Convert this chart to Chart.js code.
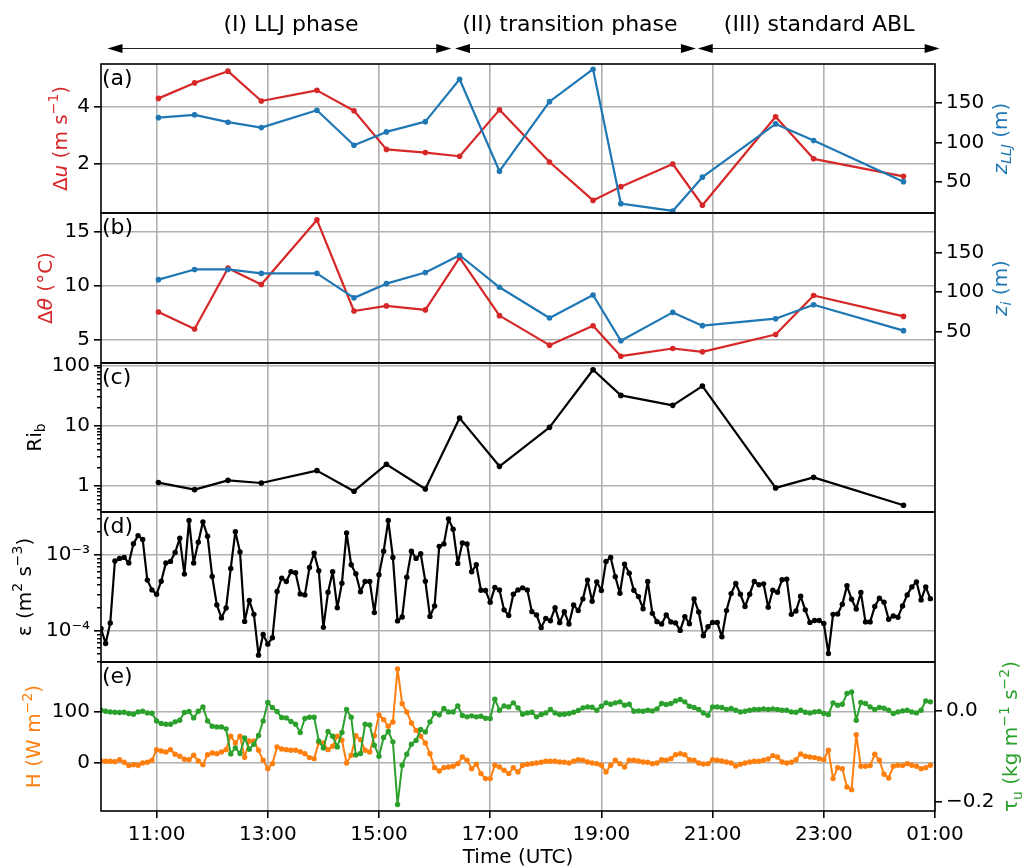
<!DOCTYPE html>
<html>
<head>
<meta charset="utf-8">
<title>LLJ, transition and standard ABL phases</title>
<script src="https://cdn.jsdelivr.net/npm/chart.js@4.4.1/dist/chart.umd.min.js"></script>
<style>
  html, body { margin: 0; background: #fff; }
  #fig { position: relative; width: 1023px; height: 866px; }
  #fig canvas { position: absolute; left: 0; top: 0; }
</style>
</head>
<body>
<div id="fig">
  <canvas id="panel-a" width="1023" height="866"></canvas>
  <canvas id="panel-b" width="1023" height="866"></canvas>
  <canvas id="panel-c" width="1023" height="866"></canvas>
  <canvas id="panel-d" width="1023" height="866"></canvas>
  <canvas id="panel-e" width="1023" height="866"></canvas>
</div>
<script>
/* Radiosonde profiles (one value per launch, UTC) */
const profileTimes = ["11:02", "11:41", "12:17", "12:53", "13:53", "14:33", "15:08", "15:50", "16:27",
                      "17:10", "18:04", "18:51", "19:21", "20:17", "20:49", "22:08", "22:49", "00:26"];
const duValues     = [4.30, 4.84, 5.25, 4.21, 4.58, 3.87, 2.52, 2.41, 2.28, 3.90, 2.08, 0.74, 1.22, 2.01, 0.57, 3.66, 2.19, 1.58];
const zLljValues   = [131.6, 135.1, 125.8, 118.9, 141.1, 96.4, 113.4, 126.5, 180.6, 63.3, 152.0, 193.4, 21.9, 12.6, 55.7, 123.6, 102.3, 50.0];
const dThetaValues = [7.62, 6.04, 11.67, 10.16, 16.13, 7.71, 8.18, 7.81, 12.64, 7.28, 4.55, 6.35, 3.53, 4.24, 3.93, 5.54, 9.14, 7.21];
const ziValues     = [115.6, 128.5, 128.5, 123.5, 123.5, 92.5, 110.5, 124.7, 146.5, 105.9, 67.0, 96.2, 38.1, 74.1, 57.3, 66.1, 83.7, 51.0];
const ribValues    = [1.14, 0.87, 1.24, 1.12, 1.80, 0.82, 2.29, 0.89, 13.4, 2.12, 9.4, 85, 31.9, 21.8, 45.5, 0.93, 1.39, 0.48];

/* Tower series, 5-min averages starting 10:00 UTC */
const sampleStart = "10:00";
const sampleMinutes = 5;
const epsValues = [
  1.08e-4, 6.87e-5, 1.28e-4, 8.33e-4, 9.03e-4, 9.31e-4, 7.84e-4, 1.41e-3, 1.80e-3, 1.60e-3,
  4.68e-4, 3.48e-4, 3.05e-4, 4.53e-4, 7.84e-4, 8.25e-4, 1.08e-3, 1.66e-3, 5.61e-4, 2.84e-3,
  7.84e-4, 1.47e-3, 2.73e-3, 1.77e-3, 5.22e-4, 2.21e-4, 1.49e-4, 2.01e-4, 6.67e-4, 2.03e-3,
  1.10e-3, 1.34e-4, 2.52e-4, 1.66e-4, 4.82e-5, 9.04e-5, 6.73e-5, 8.17e-5, 3.31e-4, 4.97e-4,
  4.49e-4, 6.03e-4, 5.85e-4, 3.08e-4, 2.99e-4, 6.87e-4, 1.06e-3, 6.21e-4, 1.12e-4, 3.24e-4,
  6.03e-4, 2.03e-4, 4.27e-4, 1.95e-3, 7.45e-4, 5.67e-4, 3.28e-4, 4.49e-4, 4.49e-4, 1.75e-4,
  5.50e-4, 1.12e-3, 2.84e-3, 9.31e-4, 1.36e-4, 1.53e-4, 5.12e-4, 1.12e-3, 9.03e-4, 1.04e-3,
  4.53e-4, 1.56e-4, 2.14e-4, 1.30e-3, 1.40e-3, 2.99e-3, 2.18e-3, 7.76e-4, 1.44e-3, 1.40e-3,
  6.03e-4, 7.45e-4, 3.44e-4, 3.41e-4, 2.39e-4, 3.74e-4, 3.48e-4, 1.90e-4, 1.60e-4, 3.05e-4,
  3.48e-4, 3.70e-4, 3.48e-4, 1.80e-4, 1.63e-4, 1.11e-4, 1.47e-4, 1.37e-4, 2.03e-4, 1.29e-4,
  1.80e-4, 1.24e-4, 2.21e-4, 1.86e-4, 2.65e-4, 4.68e-4, 2.47e-4, 4.44e-4, 3.41e-4, 8.25e-4,
  9.31e-4, 5.17e-4, 3.15e-4, 7.60e-4, 5.78e-4, 3.44e-4, 2.84e-4, 1.97e-4, 4.49e-4, 1.71e-4,
  1.33e-4, 1.24e-4, 1.63e-4, 1.32e-4, 1.28e-4, 1.02e-4, 1.55e-4, 1.25e-4, 2.65e-4, 1.78e-4,
  8.67e-5, 1.14e-4, 1.30e-4, 1.30e-4, 8.41e-5, 1.86e-4, 3.11e-4, 4.22e-4, 3.05e-4, 2.10e-4,
  3.05e-4, 4.49e-4, 4.06e-4, 4.18e-4, 2.06e-4, 3.44e-4, 3.24e-4, 4.72e-4, 4.82e-4, 1.66e-4,
  1.84e-4, 2.87e-4, 1.90e-4, 1.30e-4, 1.38e-4, 1.38e-4, 1.26e-4, 5.07e-5, 1.66e-4, 1.68e-4,
  2.25e-4, 3.94e-4, 2.62e-4, 1.95e-4, 3.21e-4, 1.32e-4, 1.32e-4, 2.10e-4, 2.70e-4, 2.39e-4,
  1.43e-4, 1.58e-4, 1.52e-4, 2.14e-4, 2.99e-4, 3.81e-4, 4.44e-4, 2.57e-4, 3.81e-4, 2.67e-4
];
const heatFluxValues = [
  2.6, 2, 2, 1.3, 5.2, 0, -6.5, -4.6, -5.9, -1.3,
  0, 3.9, 24.8, 22.2, 20.3, 24.8, 15.7, 11.8, 5.9, 5.2,
  13.7, 2.6, -4.6, 15, 18.3, 17, 20.3, 24.8, 51, 37.9,
  51, 9.8, 41.8, 41.8, 23.5, 3.9, -12.4, -2.6, 30, 26.1,
  24.8, 23.5, 23.5, 20.9, 17, 9.2, 7.2, 38.6, 37.9, 24.8,
  31.4, 51, 43.1, -1.3, 13.7, 52.3, 44.4, 23.5, 20.3, 52.3,
  92.8, 83.7, 70.6, 79.1, 183, 115, 98.7, 77.1, 62.7, 51,
  37.9, 17, -10.5, -17, -10.5, -9.2, -7.8, -2.6, 10.5, 3.9,
  -12.4, -3.9, -22.2, -32, -32, -5.9, -9.2, -15.7, -22.2, -10.5,
  -19, -5.9, -3.9, -2.6, -1.3, 0, 2, 2, 2, 0.7,
  0, -1.3, 2, 5.2, 3.9, 0.7, -1.3, -2.6, -5.9, -19,
  -5.9, 3.9, -2.6, -9.2, 3.9, 3.9, 2.6, 0.7, 0, -2.6,
  -1.3, 5.2, 3.9, 7.2, 15, 17, 15, 5.2, 3.9, -1.3,
  -3.3, -2.6, 5.2, 3.9, 2.6, 0.7, -1.3, -7.2, -3.9, -1.3,
  0.7, 2, 2, 3.9, 6.5, 13.1, 10.5, 0.7, -1.3, 0,
  5.2, 16.3, 11.8, 10.5, 9.2, 7.2, 5.2, 23.5, -32, -10.5,
  -12.4, -48.4, -53.6, 54.2, -7.8, -7.8, -6.5, 15.7, 3.9, -23.5,
  -30.7, -7.8, -5.9, -6.5, -2.6, -5.9, -7.8, -12.4, -10.5, -5.9
];
const stressValues = [
  0.0022, 0, -0.0015, -0.0022, -0.003, -0.0022, -0.005, -0.0066, -0.0015, 0,
  -0.0037, -0.0044, -0.0214, -0.0273, -0.0288, -0.0288, -0.0236, -0.0199, -0.003, -0.0007,
  -0.0148, 0, 0.0096, -0.0214, -0.0332, -0.0347, -0.0347, -0.0391, -0.0945, -0.0812,
  -0.0937, -0.059, -0.0841, -0.0731, -0.0539, -0.0214, 0.0192, 0.0081, -0.0007, -0.014,
  -0.0148, -0.0229, -0.0288, -0.0472, -0.0162, -0.0133, -0.0133, -0.0657, -0.0812, -0.045,
  -0.0554, -0.079, -0.0472, 0.0037, -0.0133, -0.0967, -0.0937, -0.0288, -0.0303, -0.0753,
  -0.0996, -0.0583, -0.045, -0.0679, -0.2066, -0.1196, -0.0952, -0.0731, -0.0649, -0.0406,
  -0.0458, -0.0236, -0.0044, -0.0081, 0.0059, -0.0015, -0.0015, 0.0118, -0.0096, -0.0125,
  -0.0103, -0.0125, -0.0111, -0.0155, -0.0162, 0.0266, 0.0022, 0.0118, 0.0096, 0.0185,
  0.0074, -0.0066, -0.0037, -0.0022, -0.0125, -0.0074, -0.0037, 0.0037, -0.0037, -0.0074,
  -0.0066, -0.0052, -0.0022, 0.0015, 0.0074, 0.0096, 0.0089, 0.0022, 0.0111, 0.0185,
  0.0155, 0.0185, 0.0207, 0.0133, 0.0155, 0, 0.0007, 0, 0.0022, 0.0007,
  0.0052, 0.017, 0.0148, 0.017, 0.0229, 0.0258, 0.0207, 0.0111, 0.0081, 0.0037,
  -0.0037, -0.0089, 0.0096, 0.0096, 0.0081, 0.0037, 0.0059, 0.0022, -0.0015, 0,
  0.0022, 0.0037, 0.0037, 0.0052, 0.0037, 0.0052, 0.0037, 0.0022, 0.0022, -0.0015,
  -0.0022, 0.0022, -0.0022, -0.0037, -0.0015, -0.0007, -0.0052, -0.0074, 0.0185, 0.0133,
  0.0155, 0.0391, 0.0428, -0.0199, 0.0192, 0.017, 0.0096, 0.0037, 0.0081, 0.0066,
  0.0022, -0.0052, -0.0015, 0.0007, 0.0022, -0.0015, -0.0037, 0.0022, 0.0229, 0.0207
];

/* Flow regimes shown above the panels */
const phaseNames   = ["(I) LLJ phase", "(II) transition phase", "(III) standard ABL"];
const phaseFrom    = ["10:07", "16:22", "20:44"];
const phaseTo      = ["16:18", "20:42", "01:05"];
const phaseLabelAt = ["13:25", "18:26", "22:55"];

/* Tick labels */
const timeTickLabels = ["11:00", "13:00", "15:00", "17:00", "19:00", "21:00", "23:00", "01:00"];
const duTicks = [2, 4];
const zLljTicks = [50, 100, 150];
const dThetaTicks = [5, 10, 15];
const ziTicks = [50, 100, 150];
const ribTicks = [1, 10, 100];
const epsTicks = [1e-4, 1e-3];
const heatFluxTicks = [0, 100];
const stressTicks = [-0.2, 0.0];

/* ---- look ---- */
const RED = "#d62728", BLUE = "#1f77b4", ORANGE = "#ff7f0e", GREEN = "#2ca02c";
const GRID = "#b0b0b0";
const FONT = '"DejaVu Sans", sans-serif';
const W = 1023, H = 866;
const PLOT_L = 101, PLOT_R = 935;
const PANEL_EDGES = [64, 213, 363, 512, 662, 811];
const X_AXIS_H = 55;

Chart.defaults.font.family = FONT;
Chart.defaults.color = "#000";

/* "00:26" -> 24.43; hours before 10 belong to the next day */
function toHours(s) {
  const [h, m] = s.split(":").map(Number);
  return (h < 10 ? h + 24 : h) + m / 60;
}

const atProfiles = (values) => values.map((v, i) => ({ x: toHours(profileTimes[i]), y: v }));
const atSamples = (values) =>
  values.map((v, i) => ({ x: toHours(sampleStart) + (i * sampleMinutes) / 60, y: v }));

const SUPERSCRIPT = { "-": "⁻", "0": "⁰", "1": "¹", "2": "²", "3": "³", "4": "⁴", "5": "⁵" };
const powerLabel = (v) =>
  "10" + String(Math.round(Math.log10(v))).split("").map((c) => SUPERSCRIPT[c]).join("");

/* Text with italics, sub- and superscripts, centred on (cx, cy) */
function drawRich(ctx, parts, cx, cy, color, size, vertical) {
  const fontOf = (p) => `${p.i ? "italic " : ""}${p.sub || p.sup ? size * 0.7 : size}px ${FONT}`;
  ctx.save();
  ctx.translate(cx, cy);
  if (vertical) ctx.rotate(-Math.PI / 2);
  ctx.fillStyle = color;
  ctx.textBaseline = "alphabetic";
  ctx.textAlign = "left";
  const widths = parts.map((p) => { ctx.font = fontOf(p); return ctx.measureText(p.t).width; });
  let x = -widths.reduce((a, b) => a + b, 0) / 2;
  const base = size * 0.36;
  parts.forEach((p, k) => {
    ctx.font = fontOf(p);
    const dy = p.sup ? -size * 0.42 : p.sub ? size * 0.22 : 0;
    ctx.fillText(p.t, x, base + dy);
    x += widths[k];
  });
  ctx.restore();
}

function arrowHead(ctx, x, y, dir) {
  ctx.beginPath();
  ctx.moveTo(x, y);
  ctx.lineTo(x + dir * 15, y - 4.5);
  ctx.lineTo(x + dir * 15, y + 4.5);
  ctx.closePath();
  ctx.fill();
}

/* frame, panel letter, axis titles; phase arrows on the top panel, time title on the bottom one */
function decor(spec, k, last) {
  return {
    id: "decor",
    afterDraw(chart) {
      const { ctx, chartArea: a } = chart;
      const midY = (a.top + a.bottom) / 2;
      ctx.save();
      ctx.strokeStyle = "#000";
      ctx.lineWidth = 1.6;
      ctx.strokeRect(a.left, a.top, a.right - a.left, a.bottom - a.top);
      ctx.fillStyle = "#000";
      ctx.font = `22px ${FONT}`;
      ctx.textAlign = "left";
      ctx.textBaseline = "alphabetic";
      ctx.fillText(spec.letter, a.left + 1, a.top + 20.5);
      ctx.restore();

      for (const t of spec.titles) drawRich(ctx, t.parts, t.x, midY, t.color, 20, true);

      if (last) {
        drawRich(ctx, [{ t: "Time (UTC)" }], (a.left + a.right) / 2, 856, "#000", 20, false);
      }

      if (k === 0) {
        const xs = chart.scales.x;
        const y = 48.5;
        ctx.save();
        ctx.fillStyle = "#000";
        ctx.strokeStyle = "#222";
        ctx.lineWidth = 1.2;
        phaseNames.forEach((name, n) => {
          const x1 = xs.getPixelForValue(toHours(phaseFrom[n]));
          const x2 = xs.getPixelForValue(toHours(phaseTo[n]));
          ctx.beginPath();
          ctx.moveTo(x1 + 10, y);
          ctx.lineTo(x2 - 10, y);
          ctx.stroke();
          arrowHead(ctx, x1, y, 1);
          arrowHead(ctx, x2, y, -1);
          ctx.font = `22px ${FONT}`;
          ctx.textAlign = "center";
          ctx.textBaseline = "alphabetic";
          ctx.fillText(name, xs.getPixelForValue(toHours(phaseLabelAt[n])), 30.5);
        });
        ctx.restore();
      }
    },
  };
}

function timeAxis(showLabels) {
  return {
    type: "linear",
    min: toHours("10:00"),
    max: toHours("01:00"),
    bounds: "data",
    afterBuildTicks: (s) => { s.ticks = timeTickLabels.map((t) => ({ value: toHours(t) })); },
    afterFit: (s) => { s.height = showLabels ? X_AXIS_H : 0; },
    grid: { color: GRID, lineWidth: 1.6, drawTicks: showLabels, tickLength: 7, tickWidth: 1.6, tickColor: "#000" },
    border: { display: false },
    ticks: {
      display: showLabels,
      autoSkip: false,
      maxRotation: 0,
      padding: 5,
      font: { size: 20 },
      callback: (v, i) => timeTickLabels[i],
    },
  };
}

function valueAxis(pos, spec) {
  const isLog = spec.type === "logarithmic";
  const minorTick = (c) => isLog && c.tick && !c.tick.major;
  return {
    type: spec.type || "linear",
    position: pos,
    min: spec.min,
    max: spec.max,
    bounds: "data",
    afterBuildTicks: (s) => {
      if (!isLog) { s.ticks = spec.ticks.map((v) => ({ value: v })); return; }
      const out = [];
      const d0 = Math.floor(Math.log10(spec.min)), d1 = Math.ceil(Math.log10(spec.max));
      for (let d = d0; d <= d1; d++) {
        for (let m = 1; m <= 9; m++) {
          const v = m * Math.pow(10, d);
          if (v < spec.min || v > spec.max) continue;
          out.push({ value: v, major: spec.ticks.some((t) => Math.abs(t - v) / t < 1e-6) });
        }
      }
      s.ticks = out;
    },
    afterFit: (s) => { s.width = pos === "left" ? PLOT_L : W - PLOT_R; },
    grid: {
      drawOnChartArea: pos === "left",
      color: (c) => (minorTick(c) ? "rgba(0,0,0,0)" : GRID),
      lineWidth: 1.6,
      tickLength: 7,
      tickWidth: 1.6,
      tickColor: "#000",
      tickBorderDash: (c) => (minorTick(c) ? [0, 3, 4, 40] : []),
    },
    border: { display: false },
    ticks: {
      autoSkip: false,
      padding: 4,
      font: { size: 20 },
      callback: (v, i, ticks) => (isLog && !ticks[i].major ? "" : spec.fmt(v)),
    },
  };
}

function line(data, color, axis, order, width, radius) {
  return {
    data, yAxisID: axis, xAxisID: "x", order,
    borderColor: color, backgroundColor: color,
    borderWidth: width, borderJoinStyle: "round",
    pointRadius: radius, pointBorderWidth: 0, pointBackgroundColor: color,
    tension: 0,
  };
}

function panel(id, k, spec) {
  const last = k === PANEL_EDGES.length - 2;
  const scales = { x: timeAxis(last), yL: valueAxis("left", spec.left) };
  if (spec.right) scales.yR = valueAxis("right", spec.right);
  return new Chart(document.getElementById(id), {
    type: "line",
    data: { datasets: spec.datasets },
    options: {
      responsive: false,
      animation: false,
      events: [],
      layout: {
        padding: {
          top: PANEL_EDGES[k],
          left: 0,
          right: spec.right ? 0 : W - PLOT_R,
          bottom: H - PANEL_EDGES[k + 1] - (last ? X_AXIS_H : 0),
        },
      },
      plugins: { legend: { display: false }, tooltip: { enabled: false } },
      scales,
    },
    plugins: [decor(spec, k, last)],
  });
}

const plain = (v) => String(v);

panel("panel-a", 0, {
  letter: "(a)",
  left: { min: 0.3, max: 5.5, ticks: duTicks, fmt: plain },
  right: { min: 10, max: 200, ticks: zLljTicks, fmt: plain },
  datasets: [
    line(atProfiles(zLljValues), BLUE, "yR", 1, 2.2, 2.8),
    line(atProfiles(duValues), RED, "yL", 2, 2.2, 2.8),
  ],
  titles: [
    { x: 59.5, color: RED, parts: [{ t: "Δ" }, { t: "u", i: 1 }, { t: " (m s" }, { t: "−1", sup: 1 }, { t: ")" }] },
    { x: 999.5, color: BLUE, parts: [{ t: "z", i: 1 }, { t: "LLJ", i: 1, sub: 1 }, { t: " (m)" }] },
  ],
});

panel("panel-b", 1, {
  letter: "(b)",
  left: { min: 2.9, max: 16.77, ticks: dThetaTicks, fmt: plain },
  right: { min: 10, max: 200, ticks: ziTicks, fmt: plain },
  datasets: [
    line(atProfiles(ziValues), BLUE, "yR", 1, 2.2, 2.8),
    line(atProfiles(dThetaValues), RED, "yL", 2, 2.2, 2.8),
  ],
  titles: [
    { x: 45, color: RED, parts: [{ t: "Δ" }, { t: "θ", i: 1 }, { t: " (°C)" }] },
    { x: 999.5, color: BLUE, parts: [{ t: "z", i: 1 }, { t: "i", i: 1, sub: 1 }, { t: " (m)" }] },
  ],
});

panel("panel-c", 2, {
  letter: "(c)",
  left: { type: "logarithmic", min: 0.37, max: 110, ticks: ribTicks, fmt: plain },
  datasets: [line(atProfiles(ribValues), "#000", "yL", 1, 2.2, 2.8)],
  titles: [{ x: 33.5, color: "#000", parts: [{ t: "Ri" }, { t: "b", sub: 1 }] }],
});

panel("panel-d", 3, {
  letter: "(d)",
  left: { type: "logarithmic", min: 3.92e-5, max: 3.68e-3, ticks: epsTicks, fmt: powerLabel },
  datasets: [line(atSamples(epsValues), "#000", "yL", 1, 2.2, 2.7)],
  titles: [{
    x: 23.5, color: "#000",
    parts: [{ t: "ε (m" }, { t: "2", sup: 1 }, { t: " s" }, { t: "−3", sup: 1 }, { t: ")" }],
  }],
});

panel("panel-e", 4, {
  letter: "(e)",
  left: { min: -95.5, max: 196.7, ticks: heatFluxTicks, fmt: plain },
  right: { min: -0.221, max: 0.109, ticks: stressTicks, fmt: (v) => v.toFixed(1).replace("-", "−") },
  datasets: [
    line(atSamples(stressValues), GREEN, "yR", 1, 2, 2.7),
    line(atSamples(heatFluxValues), ORANGE, "yL", 2, 2, 2.7),
  ],
  titles: [
    { x: 33, color: ORANGE, parts: [{ t: "H (W m" }, { t: "−2", sup: 1 }, { t: ")" }] },
    {
      x: 1010, color: GREEN,
      parts: [{ t: "τ" }, { t: "u", sub: 1 }, { t: " (kg m" }, { t: "−1", sup: 1 }, { t: " s" }, { t: "−2", sup: 1 }, { t: ")" }],
    },
  ],
});
</script>
</body>
</html>
